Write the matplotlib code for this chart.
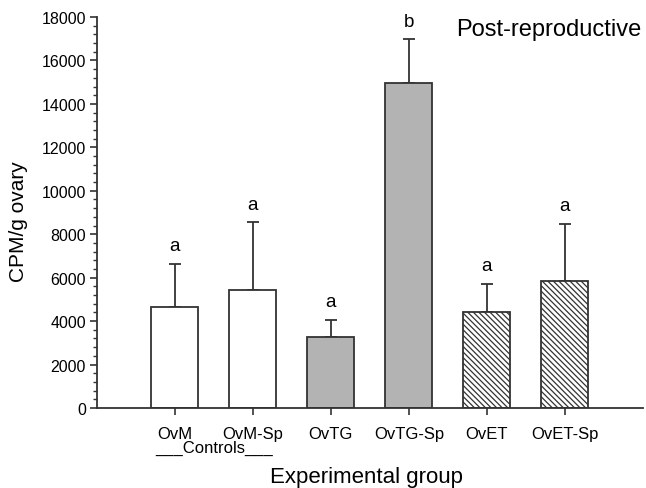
import numpy as np
import matplotlib
matplotlib.use('Agg')
import matplotlib.pyplot as plt
from matplotlib.ticker import MultipleLocator

plt.rcParams['font.family'] = ['Liberation Sans', 'DejaVu Sans']
plt.rcParams['hatch.linewidth'] = 0.9

# data
groups = ['OvM', 'OvM-Sp', 'OvTG', 'OvTG-Sp', 'OvET', 'OvET-Sp']
means = [4640, 5430, 3270, 14950, 4440, 5840]
sem = [1980, 3120, 780, 2020, 1270, 2650]
letters = ['a', 'a', 'a', 'b', 'a', 'a']
fills = ['white', 'white', '#b3b3b3', '#b3b3b3', 'white', 'white']
hatches = ['', '', '', '', '\\' * 6, '\\' * 6]

edge = '#333333'

fig = plt.figure(figsize=(6.46, 4.89), dpi=100)
ax = fig.add_axes([0.150, 0.1636, 0.845, 0.7995])

x = np.arange(len(groups))
bars = ax.bar(x, means, width=0.6, color=fills, edgecolor=edge, linewidth=1.3, zorder=2)
for b, h in zip(bars, hatches):
    b.set_hatch(h)

ax.errorbar(x, means, yerr=[np.zeros(len(sem)), sem], fmt='none', ecolor=edge,
            elinewidth=1.3, capsize=4.5, capthick=1.3, zorder=1)

for xi, m, s, lab in zip(x, means, sem, letters):
    ax.annotate(lab, (xi, m + s), xytext=(0, 7), textcoords='offset points',
                ha='center', va='bottom', fontsize=13.5)

ax.set_xlim(-1, 6)
ax.set_ylim(0, 18000)
ax.yaxis.set_major_locator(MultipleLocator(2000))
ax.yaxis.set_minor_locator(MultipleLocator(400))
ax.set_xticks(x)
ax.set_xticklabels(groups, fontsize=12)
ax.tick_params(axis='y', which='major', length=5, width=1.2, color=edge, labelsize=11.5, pad=3)
ax.tick_params(axis='y', which='minor', length=3, width=1.0, color=edge)
ax.tick_params(axis='x', length=5, width=1.2, color=edge, pad=8)

for side in ['top', 'right']:
    ax.spines[side].set_visible(False)
for side in ['left', 'bottom']:
    ax.spines[side].set_linewidth(1.3)
    ax.spines[side].set_color(edge)

ax.set_ylabel('CPM/g ovary', fontsize=15)
ax.yaxis.set_label_coords(-0.127, 0.48)
ax.set_xlabel('Experimental group', fontsize=16)
ax.xaxis.set_label_coords(0.494, -0.148)

ax.text(0.5, -0.112, '___Controls___', transform=ax.get_xaxis_transform(),
        ha='center', va='baseline', fontsize=12)

ax.text(0.658, 0.954, 'Post-reproductive', transform=ax.transAxes,
        ha='left', va='baseline', fontsize=17)

fig.savefig('out.png', dpi=100)
